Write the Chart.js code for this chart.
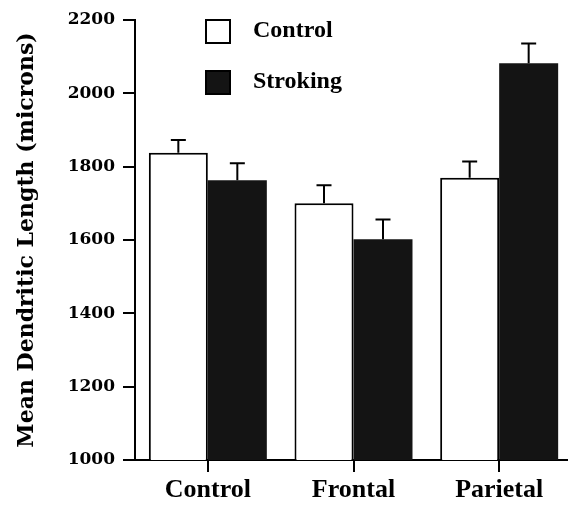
<!DOCTYPE html>
<html>
<head>
<meta charset="utf-8">
<script src="https://cdn.jsdelivr.net/npm/chart.js@4/dist/chart.umd.min.js"></script>
<style>
  html, body { margin: 0; padding: 0; background: #fff; overflow: hidden; }
  #wrap { width: 572px; height: 505px; }
</style>
</head>
<body>
<div id="wrap"><canvas id="c" width="572" height="505"></canvas></div>
<script>
const categories = ['Control', 'Frontal', 'Parietal'];
const seriesNames = ['Control', 'Stroking'];
const controlValues = [1838, 1700, 1770];
const controlErrors = [35, 49, 44];
const strokingValues = [1763, 1602, 2082];
const strokingErrors = [46, 54, 54];
const yTicks = [1000, 1200, 1400, 1600, 1800, 2000, 2200];
const yTitle = 'Mean Dendritic Length (microns)';

const errorBarPlugin = {
  id: 'errorBars',
  afterDatasetsDraw(chart) {
    const ctx = chart.ctx;
    const y = chart.scales.y;
    ctx.save();
    ctx.strokeStyle = '#000';
    ctx.lineWidth = 2;
    chart.data.datasets.forEach((ds, i) => {
      const meta = chart.getDatasetMeta(i);
      meta.data.forEach((bar, j) => {
        const top = y.getPixelForValue(ds.data[j]);
        const errTop = y.getPixelForValue(ds.data[j] + ds.errors[j]);
        const x = bar.x;
        ctx.beginPath();
        ctx.moveTo(x, top);
        ctx.lineTo(x, errTop);
        ctx.moveTo(x - 7.5, errTop);
        ctx.lineTo(x + 7.5, errTop);
        ctx.stroke();
      });
    });
    ctx.restore();
  }
};

const legendPlugin = {
  id: 'boxLegend',
  afterDraw(chart) {
    const ctx = chart.ctx;
    ctx.save();
    ctx.font = 'bold 24px "Liberation Serif"';
    ctx.textBaseline = 'middle';
    ctx.textAlign = 'left';
    chart.data.datasets.forEach((ds, i) => {
      const bx = 206, by = 20 + i * 51;
      ctx.fillStyle = ds.backgroundColor;
      ctx.fillRect(bx, by, 24, 23);
      ctx.strokeStyle = '#000';
      ctx.lineWidth = 2;
      ctx.strokeRect(bx, by, 24, 23);
      ctx.fillStyle = '#000';
      ctx.fillText(ds.label, 253, by + 11);
    });
    ctx.restore();
  }
};

new Chart(document.getElementById('c'), {
  type: 'bar',
  data: {
    labels: categories,
    datasets: [
      { label: seriesNames[0], data: controlValues, errors: controlErrors,
        backgroundColor: '#ffffff', borderColor: '#000', borderWidth: 2,
        categoryPercentage: 0.81, barPercentage: 1.0 },
      { label: seriesNames[1], data: strokingValues, errors: strokingErrors,
        backgroundColor: '#141414', borderColor: '#141414', borderWidth: 0,
        categoryPercentage: 0.81, barPercentage: 1.0 }
    ]
  },
  options: {
    responsive: false,
    animation: false,
    layout: { padding: { top: 20, left: 0, right: 0, bottom: 0 } },
    plugins: { legend: { display: false }, tooltip: { enabled: false } },
    scales: {
      x: {
        grid: { drawOnChartArea: false, offset: false, color: '#000', lineWidth: 2, tickLength: 12 },
        border: { color: '#000', width: 2 },
        ticks: { color: '#000', font: { family: 'Liberation Serif', weight: 'bold', size: 26 }, padding: 3 },
        afterFit(scale) { scale.height = 45; }
      },
      y: {
        min: 1000, max: 2200,
        afterBuildTicks(scale) { scale.ticks = yTicks.map(v => ({ value: v })); },
        grid: { drawOnChartArea: false, color: '#000', lineWidth: 2, tickLength: 12 },
        border: { color: '#000', width: 2 },
        ticks: { color: '#000', font: { family: 'DejaVu Serif', weight: 'bold', size: 17 }, padding: 8,
                 callback: (v) => String(v) },
        title: { display: true, text: yTitle, color: '#000',
                 font: { family: 'DejaVu Serif', weight: 'bold', size: 22 }, padding: { top: 14, bottom: 0 } },
        afterFit(scale) { scale.width = 135; }
      }
    }
  },
  plugins: [errorBarPlugin, legendPlugin]
});
</script>
</body>
</html>
